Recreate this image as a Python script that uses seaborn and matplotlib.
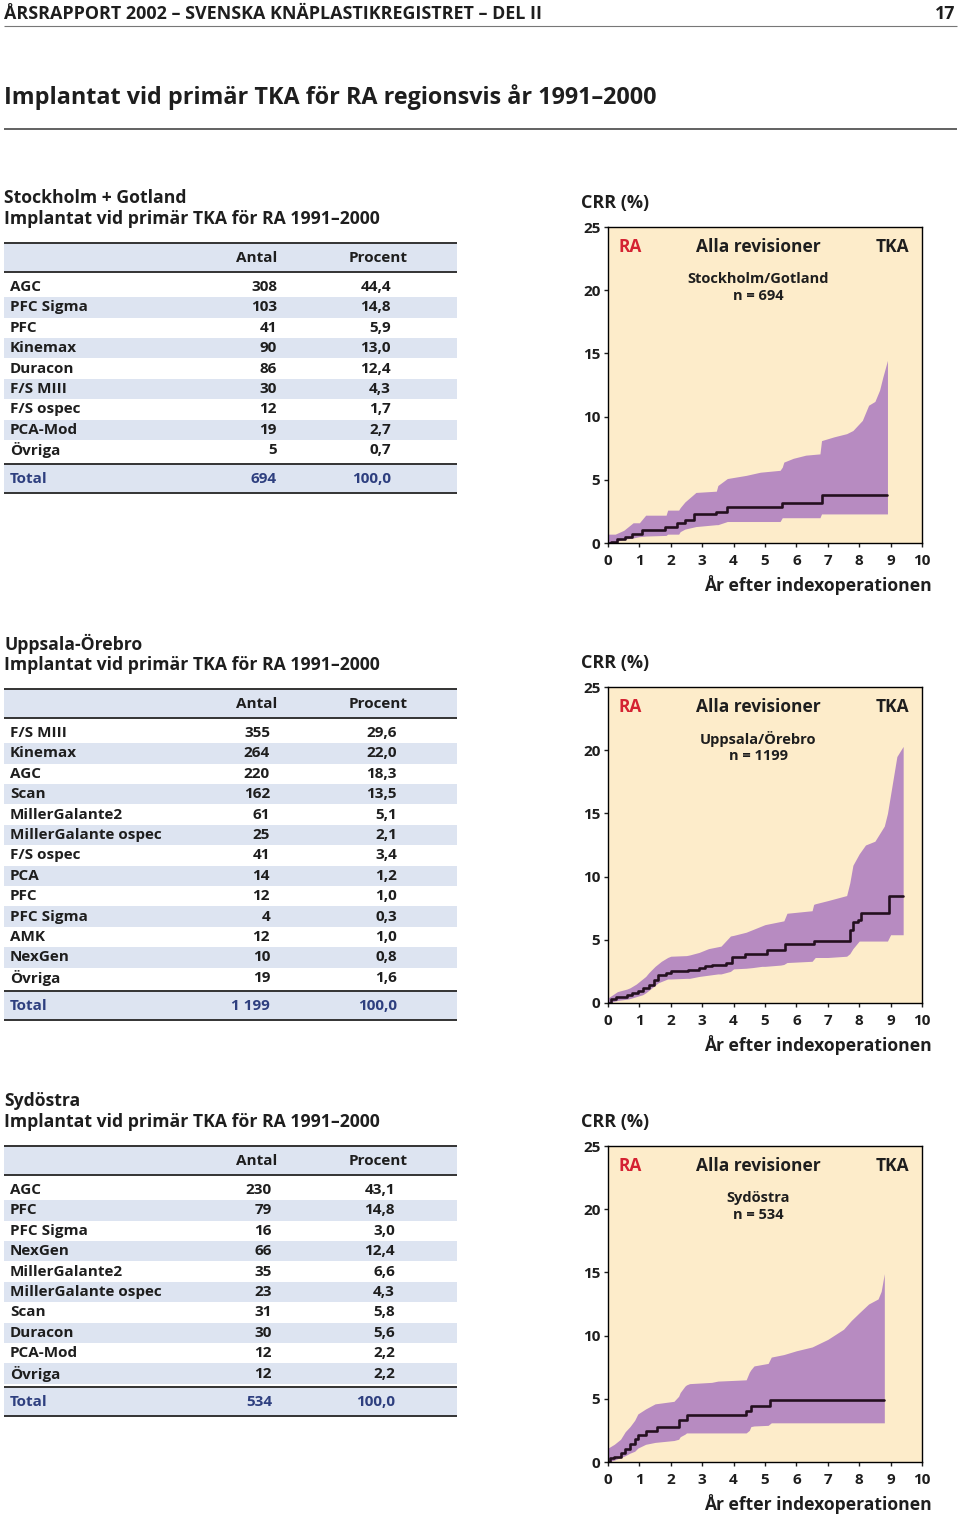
import matplotlib
matplotlib.use("Agg")
import matplotlib.pyplot as plt
from matplotlib.patches import Rectangle
import seaborn as sns

sns.set_theme(style="ticks")
plt.rcParams['font.family'] = ['Open Sans', 'DejaVu Sans']
plt.rcParams['font.weight'] = 'bold'

# page texts
header_left = "ÅRSRAPPORT 2002 – SVENSKA KNÄPLASTIKREGISTRET – DEL II"
header_page = "17"
page_title = "Implantat vid primär TKA för RA regionsvis år 1991–2000"
table_subtitle = "Implantat vid primär TKA för RA 1991–2000"
col_antal = "Antal"
col_procent = "Procent"
total_label = "Total"
total_procent = 100.0

# --- Stockholm + Gotland ---
sg_region = "Stockholm + Gotland"
sg_chart_label = "Stockholm/Gotland"
sg_implants = ["AGC", "PFC Sigma", "PFC", "Kinemax", "Duracon", "F/S MIII", "F/S ospec", "PCA-Mod", "Övriga"]
sg_antal = [308, 103, 41, 90, 86, 30, 12, 19, 5]
sg_procent = [44.4, 14.8, 5.9, 13.0, 12.4, 4.3, 1.7, 2.7, 0.7]
sg_line_x = [0, 0.1, 0.3, 0.55, 0.75, 1.08, 1.82, 2.2, 2.45, 2.75, 3.45, 3.8, 5.55, 6.8, 8.9]
sg_line_y = [0, 0.1, 0.3, 0.45, 0.75, 1.0, 1.27, 1.6, 1.85, 2.27, 2.45, 2.85, 3.2, 3.82, 3.82]
sg_band_x = [0, 0.23, 0.5, 0.8, 1.0, 1.2, 1.85, 1.9, 2.25, 2.3, 2.45, 2.8, 3.45, 3.5, 3.8, 4.4, 4.85,
             5.48, 5.55, 5.6, 5.9, 6.3, 6.75, 6.8, 7.2, 7.6, 7.8, 8.1, 8.3, 8.5, 8.65, 8.75, 8.9]
sg_band_hi = [0.7, 0.7, 1.0, 1.6, 1.6, 2.2, 2.2, 2.6, 2.6, 2.8, 3.25, 4.0, 4.1, 4.55, 5.1, 5.35, 5.6,
              5.75, 6.0, 6.4, 6.7, 6.95, 7.05, 8.1, 8.4, 8.65, 8.9, 9.7, 10.9, 11.2, 12.1, 13.1, 14.45]
sg_band_lo = [0, 0.1, 0.3, 0.4, 0.5, 0.55, 0.6, 0.7, 0.7, 0.9, 1.1, 1.3, 1.45, 1.45, 1.7, 1.7, 1.7,
              1.7, 2.0, 2.0, 2.0, 2.0, 2.0, 2.3, 2.3, 2.3, 2.3, 2.3, 2.3, 2.3, 2.3, 2.3, 2.3]

# --- Uppsala-Örebro ---
uo_region = "Uppsala-Örebro"
uo_chart_label = "Uppsala/Örebro"
uo_implants = ["F/S MIII", "Kinemax", "AGC", "Scan", "MillerGalante2", "MillerGalante ospec", "F/S ospec",
               "PCA", "PFC", "PFC Sigma", "AMK", "NexGen", "Övriga"]
uo_antal = [355, 264, 220, 162, 61, 25, 41, 14, 12, 4, 12, 10, 19]
uo_procent = [29.6, 22.0, 18.3, 13.5, 5.1, 2.1, 3.4, 1.2, 1.0, 0.3, 1.0, 0.8, 1.6]
uo_line_x = [0, 0.1, 0.25, 0.6, 0.75, 0.95, 1.1, 1.3, 1.45, 1.6, 1.85, 2.0, 2.55, 2.9, 3.1, 3.3, 3.75,
             3.95, 4.35, 5.05, 5.65, 6.55, 7.7, 7.8, 7.95, 8.05, 8.95, 9.4]
uo_line_y = [0, 0.3, 0.5, 0.6, 0.8, 0.95, 1.2, 1.4, 1.8, 2.2, 2.4, 2.55, 2.65, 2.75, 2.9, 3.0, 3.2,
             3.6, 3.85, 4.2, 4.7, 4.9, 5.8, 6.4, 6.6, 7.1, 8.5, 8.5]
uo_band_x = [0, 0.3, 0.6, 0.7, 0.9, 1.1, 1.2, 1.3, 1.4, 1.5, 1.6, 1.7, 1.9, 2.0, 2.5, 2.6, 2.9, 3.2,
             3.5, 3.6, 3.9, 4.0, 4.4, 4.6, 4.9, 5.0, 5.5, 5.6, 5.7, 6.5, 6.55, 6.6, 7.0, 7.6, 7.7,
             7.8, 8.0, 8.2, 8.5, 8.8, 8.9, 9.0, 9.2, 9.4]
uo_band_hi = [0.4, 0.9, 1.1, 1.2, 1.5, 1.9, 2.1, 2.4, 2.65, 2.9, 3.1, 3.3, 3.6, 3.7, 3.75, 3.8, 4.0, 4.3,
              4.45, 4.5, 5.3, 5.35, 5.6, 5.8, 6.1, 6.2, 6.45, 6.5, 7.1, 7.3, 7.8, 7.85, 8.1, 8.5, 9.5,
              10.9, 11.8, 12.5, 12.8, 14.0, 15.0, 16.5, 19.5, 20.3]
uo_band_lo = [0, 0.2, 0.3, 0.35, 0.5, 0.65, 0.8, 1.0, 1.2, 1.4, 1.6, 1.7, 1.9, 1.9, 1.95, 1.95, 2.1, 2.2,
              2.3, 2.3, 2.5, 2.7, 2.75, 2.8, 2.9, 2.9, 3.0, 3.05, 3.2, 3.3, 3.45, 3.6, 3.6, 3.7, 3.9,
              4.3, 4.9, 4.9, 4.9, 4.9, 4.9, 5.4, 5.4, 5.4]

# --- Sydöstra ---
so_region = "Sydöstra"
so_chart_label = "Sydöstra"
so_implants = ["AGC", "PFC", "PFC Sigma", "NexGen", "MillerGalante2", "MillerGalante ospec", "Scan",
               "Duracon", "PCA-Mod", "Övriga"]
so_antal = [230, 79, 16, 66, 35, 23, 31, 30, 12, 12]
so_procent = [43.1, 14.8, 3.0, 12.4, 6.6, 4.3, 5.8, 5.6, 2.2, 2.2]
so_line_x = [0, 0.05, 0.2, 0.4, 0.55, 0.7, 0.85, 0.95, 1.2, 1.55, 2.25, 2.5, 4.4, 4.55, 5.15, 8.8]
so_line_y = [0, 0.3, 0.4, 0.7, 1.05, 1.4, 1.8, 2.1, 2.45, 2.75, 3.3, 3.7, 4.05, 4.4, 4.9, 4.9]
so_band_x = [0, 0.2, 0.4, 0.55, 0.7, 0.85, 0.95, 1.2, 1.5, 2.1, 2.25, 2.3, 2.45, 2.5, 2.6, 3.3, 3.5,
             4.4, 4.5, 4.55, 4.65, 5.1, 5.2, 5.6, 6.0, 6.5, 7.0, 7.5, 7.75, 8.0, 8.3, 8.6, 8.7, 8.8]
so_band_hi = [1.1, 1.4, 1.8, 2.4, 2.8, 3.3, 3.8, 4.2, 4.6, 4.8, 5.2, 5.5, 6.0, 6.1, 6.2, 6.3, 6.4,
              6.5, 7.1, 7.3, 7.6, 7.8, 8.3, 8.5, 8.8, 9.1, 9.7, 10.5, 11.2, 11.8, 12.5, 12.9, 13.5, 14.9]
so_band_lo = [0, 0.15, 0.35, 0.5, 0.7, 0.85, 1.1, 1.4, 1.55, 1.7, 1.8, 2.0, 2.2, 2.3, 2.3, 2.3, 2.3,
              2.3, 2.5, 2.8, 2.85, 2.9, 3.1, 3.1, 3.1, 3.1, 3.1, 3.1, 3.1, 3.1, 3.1, 3.1, 3.1, 3.1]

# colours
cream = "#FDECCA"
purple = "#B78BC1"
line_col = "#24101F"
band_blue = "#DDE4F1"
rule_col = "#333333"
navy = "#2E3F7F"
red = "#D42232"
ink = "#1E1E1E"


def fmt_num(v):
    return f"{v:,}".replace(",", " ")


def fmt_pct(v):
    return f"{v:.1f}".replace(".", ",")


def draw_table(page, top, region, implants, antal, procent, antal_x, procent_x):
    fs = 11
    page.text(4, top, region, fontsize=12.7, va="center", color=ink)
    page.text(4, top + 21, table_subtitle, fontsize=12.7, va="center", color=ink)
    head_top = top + 45
    page.add_patch(Rectangle((4, head_top), 453, 29, color=band_blue, lw=0))
    page.hlines([head_top, head_top + 29], 4, 457, color=rule_col, lw=1.4)
    page.text(277, head_top + 15, col_antal, ha="right", va="center", fontsize=fs, color=ink)
    page.text(378, head_top + 15, col_procent, ha="center", va="center", fontsize=fs, color=ink)
    row0 = head_top + 29 + 15
    step = 20.4
    for i, (name, a, p) in enumerate(zip(implants, antal, procent)):
        y = row0 + i * step
        if i % 2 == 1:
            page.add_patch(Rectangle((4, y - step / 2), 453, step, color=band_blue, lw=0))
        page.text(10, y, name, va="center", fontsize=fs, color=ink)
        page.text(antal_x, y, fmt_num(a), ha="right", va="center", fontsize=fs, color=ink)
        page.text(procent_x, y, fmt_pct(p), ha="right", va="center", fontsize=fs, color=ink)
    tot_top = row0 + (len(implants) - 1) * step + 13.5
    page.add_patch(Rectangle((4, tot_top), 453, 29, color=band_blue, lw=0))
    page.hlines([tot_top, tot_top + 29], 4, 457, color=rule_col, lw=1.4)
    page.text(10, tot_top + 15, total_label, va="center", fontsize=fs, color=navy)
    page.text(antal_x, tot_top + 15, fmt_num(sum(antal)), ha="right", va="center", fontsize=fs, color=navy)
    page.text(procent_x, tot_top + 15, fmt_pct(total_procent), ha="right", va="center", fontsize=fs, color=navy)


def draw_chart(fig, top_px, label, n, line_x, line_y, band_x, band_lo, band_hi):
    ax = fig.add_axes([608 / 960, 1 - (top_px + 316) / 1516, 314 / 960, 316 / 1516])
    ax.set_facecolor(cream)
    ax.fill_between(band_x, band_lo, band_hi, color=purple, lw=0)
    sns.lineplot(x=line_x, y=line_y, drawstyle="steps-post", color=line_col, lw=1.9,
                 estimator=None, ax=ax)
    ax.set_xlim(0, 10)
    ax.set_ylim(0, 25)
    ax.set_xticks(range(0, 11))
    ax.set_yticks(range(0, 26, 5))
    ax.set_xlabel("")
    ax.set_ylabel("")
    for s in ax.spines.values():
        s.set_visible(True)
        s.set_color("black")
        s.set_linewidth(1)
    ax.tick_params(direction="out", length=3, width=1, labelsize=11, colors=ink)
    ax.tick_params(axis="x", pad=5)
    ax.tick_params(axis="y", pad=2.5)
    ax.text(0.035, 0.937, "RA", color=red, transform=ax.transAxes, fontsize=12.5, va="center")
    ax.text(0.478, 0.937, "Alla revisioner", transform=ax.transAxes, fontsize=12.5, ha="center",
            va="center", color=ink)
    ax.text(0.959, 0.937, "TKA", transform=ax.transAxes, fontsize=12.5, ha="right", va="center", color=ink)
    ax.text(0.478, 0.835, label, transform=ax.transAxes, fontsize=10.5, ha="center", va="center", color=ink)
    ax.text(0.478, 0.782, f"n = {n}", transform=ax.transAxes, fontsize=10.5, ha="center", va="center",
            color=ink)
    ax.text(-0.086, 1.076, "CRR (%)", transform=ax.transAxes, fontsize=13, va="center", color=ink)
    ax.text(1.032, -0.133, "År efter indexoperationen", transform=ax.transAxes, fontsize=12.6,
            ha="right", va="center", color=ink)
    return ax


fig = plt.figure(figsize=(9.6, 15.16), dpi=100)
page = fig.add_axes([0, 0, 1, 1])
page.set_xlim(0, 960)
page.set_ylim(1516, 0)
page.axis("off")

page.text(4, 14, header_left, fontsize=12.9, va="center", color=ink)
page.text(955, 14, header_page, fontsize=12.9, va="center", ha="right", color=ink)
page.hlines(26, 4, 957, color="#777777", lw=0.8)
page.text(4, 97, page_title, fontsize=16.8, va="center", color=ink)
page.hlines(129, 4, 957, color="#555555", lw=1.3)

draw_table(page, 198, sg_region, sg_implants, sg_antal, sg_procent, 277, 391)
draw_table(page, 644, uo_region, uo_implants, uo_antal, uo_procent, 270, 397)
draw_table(page, 1101, so_region, so_implants, so_antal, so_procent, 272, 395)

draw_chart(fig, 227, sg_chart_label, sum(sg_antal), sg_line_x, sg_line_y, sg_band_x, sg_band_lo, sg_band_hi)
draw_chart(fig, 687, uo_chart_label, sum(uo_antal), uo_line_x, uo_line_y, uo_band_x, uo_band_lo, uo_band_hi)
draw_chart(fig, 1146, so_chart_label, sum(so_antal), so_line_x, so_line_y, so_band_x, so_band_lo, so_band_hi)

fig.savefig("out.png", dpi=100)
